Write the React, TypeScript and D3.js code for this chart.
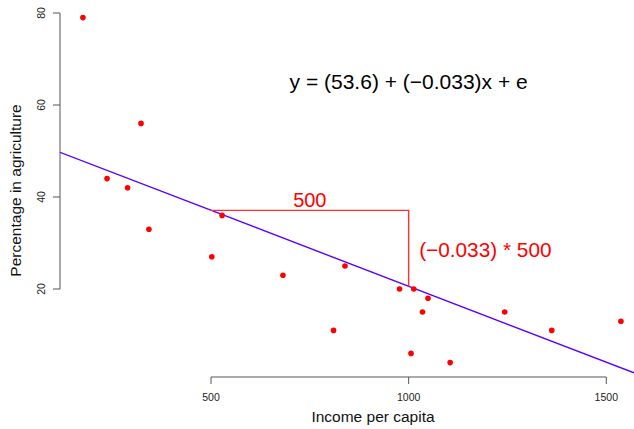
import React, { useEffect, useRef } from 'react';
import * as d3 from 'd3';

// income per capita vs percentage in agriculture
const income = [176, 323, 237, 289, 343, 502, 528, 682, 839, 810, 977, 1013, 1049, 1035, 1006, 1105, 1243, 1362, 1537];
const agri = [79, 56, 44, 42, 33, 27, 36, 23, 25, 11, 20, 20, 18, 15, 6, 4, 15, 11, 13];

const xTicks = [500, 1000, 1500];
const yTicks = [20, 40, 60, 80];

// fitted model
const intercept = 53.6;
const slope = -0.033;
const runFrom = 500;
const runTo = 1000;

const eqLabel = 'y = (53.6) + (\u22120.033)x + e';
const runLabel = '500';
const riseLabel = '(\u22120.033) * 500';

const FONT = "'Liberation Sans', Arial, sans-serif";

function App() {
  const svgRef = useRef(null);

  useEffect(() => {
    const W = 634;
    const H = 429;
    const left = 60, right = 634, top = 0, bottom = 377;

    const scX = d3.scaleLinear().domain([500, 1500]).range([211, 606.3]);
    const scY = d3.scaleLinear().domain([20, 80]).range([289, 13]);
    const fit = (x) => intercept + slope * x;

    const svg = d3.select(svgRef.current);
    svg.selectAll('*').remove();
    svg.attr('width', W).attr('height', H);

    svg.append('defs').append('clipPath').attr('id', 'plotclip')
      .append('rect').attr('x', left).attr('y', top)
      .attr('width', right - left).attr('height', bottom - top);

    // y axis
    const yAx = svg.append('g').attr('stroke', '#555').attr('fill', 'none');
    yAx.append('line')
      .attr('x1', left).attr('x2', left)
      .attr('y1', scY(80)).attr('y2', scY(20)).attr('stroke-width', 1);
    yAx.selectAll('line.tk').data(yTicks).enter().append('line')
      .attr('class', 'tk')
      .attr('x1', left - 7).attr('x2', left)
      .attr('y1', d => scY(d)).attr('y2', d => scY(d));
    svg.append('g').selectAll('text').data(yTicks).enter().append('text')
      .attr('transform', d => `translate(45,${scY(d)}) rotate(-90)`)
      .attr('text-anchor', 'middle')
      .attr('font-family', FONT).attr('font-size', 10.5).attr('fill', '#222')
      .text(d => d);

    // x axis
    const xAx = svg.append('g').attr('stroke', '#555').attr('fill', 'none');
    xAx.append('line')
      .attr('x1', scX(500)).attr('x2', scX(1500))
      .attr('y1', bottom).attr('y2', bottom);
    xAx.selectAll('line.tk').data(xTicks).enter().append('line')
      .attr('class', 'tk')
      .attr('x1', d => scX(d)).attr('x2', d => scX(d))
      .attr('y1', bottom).attr('y2', bottom + 7);
    svg.append('g').selectAll('text').data(xTicks).enter().append('text')
      .attr('x', d => scX(d)).attr('y', 401)
      .attr('text-anchor', 'middle')
      .attr('font-family', FONT).attr('font-size', 10.5).attr('fill', '#222')
      .text(d => d);

    // axis titles
    svg.append('text')
      .attr('x', 373).attr('y', 422)
      .attr('text-anchor', 'middle')
      .attr('font-family', FONT).attr('font-size', 15.5).attr('fill', '#111')
      .text('Income per capita');
    svg.append('text')
      .attr('transform', 'translate(21,190.5) rotate(-90)')
      .attr('text-anchor', 'middle')
      .attr('font-family', FONT).attr('font-size', 15.5).attr('fill', '#111')
      .text('Percentage in agriculture');

    const plot = svg.append('g').attr('clip-path', 'url(#plotclip)');

    // regression line across the plot region
    const x0 = scX.invert(left);
    const x1 = scX.invert(right);
    plot.append('line')
      .attr('x1', scX(x0)).attr('y1', scY(fit(x0)))
      .attr('x2', scX(x1)).attr('y2', scY(fit(x1)))
      .attr('stroke', '#5a00ff').attr('stroke-width', 1.4);

    // slope triangle
    const ann = svg.append('g').attr('stroke', '#ff3030').attr('fill', 'none').attr('stroke-width', 1.4);
    ann.append('path')
      .attr('d', d3.line()([
        [scX(runFrom), scY(fit(runFrom))],
        [scX(runTo), scY(fit(runFrom))],
        [scX(runTo), scY(fit(runTo))]
      ]));

    // points
    const pts = income.map((v, i) => ({ x: v, y: agri[i] }));
    plot.selectAll('circle').data(pts).enter().append('circle')
      .attr('cx', d => scX(d.x)).attr('cy', d => scY(d.y))
      .attr('r', 2.8).attr('fill', '#ff0000');

    // annotations
    svg.append('text')
      .attr('x', (scX(runFrom) + scX(runTo)) / 2).attr('y', 207)
      .attr('text-anchor', 'middle')
      .attr('font-family', FONT).attr('font-size', 20).attr('fill', '#ff0000')
      .text(runLabel);
    svg.append('text')
      .attr('x', scX(runTo) + 10.5).attr('y', 257)
      .attr('font-family', FONT).attr('font-size', 20.8).attr('fill', '#ff0000')
      .text(riseLabel);
    svg.append('text')
      .attr('x', scX(1000)).attr('y', 89)
      .attr('text-anchor', 'middle')
      .attr('font-family', FONT).attr('font-size', 21).attr('fill', '#000')
      .text(eqLabel);
  }, []);

  return (
    <div style={{ position: 'fixed', left: 0, top: 0, background: '#fff' }}>
      <svg ref={svgRef}></svg>
    </div>
  );
}

export default App;
